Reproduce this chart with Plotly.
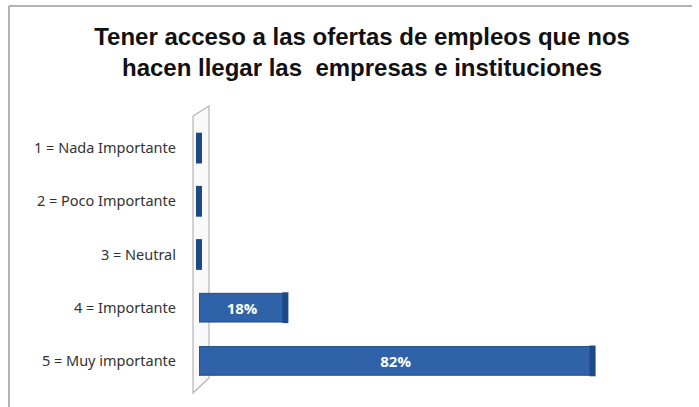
import plotly.graph_objects as go

categories = ["1 = Nada Importante", "2 = Poco Importante", "3 = Neutral",
              "4 = Importante", "5 = Muy importante"]
values = [0, 0, 0, 18, 82]
labels = ["", "", "", "18%", "82%"]

W, H = 699, 407
ML, MR, MT, MB = 199, 20, 121, 19
PW, PH = W - ML - MR, H - MT - MB

def px(x, y):
    return ((x - ML) / PW, (H - MB - y) / PH)

def path(points):
    pts = [px(x, y) for x, y in points]
    return "M " + " L ".join(f"{a:.4f},{b:.4f}" for a, b in pts) + " Z"

fig = go.Figure()
fig.add_trace(go.Bar(
    x=values, y=categories, orientation="h",
    marker=dict(color="#2F62A8", line=dict(color="#234F8C", width=1)),
    width=0.54,
    text=labels, textposition="inside", insidetextanchor="middle",
    textfont=dict(family="Open Sans", size=15, color="white", weight="bold"),
    hoverinfo="skip", cliponaxis=False,
))
fig.add_trace(go.Scatter(
    x=values, y=categories, mode="markers",
    marker=dict(symbol="line-ns", size=22, line=dict(color="#1D4A86", width=6)),
    hoverinfo="skip", cliponaxis=False,
))

fig.update_layout(
    width=W, height=H,
    margin=dict(l=ML, r=MR, t=MT, b=MB, autoexpand=False),
    paper_bgcolor="white", plot_bgcolor="white",
    showlegend=False,
    title=dict(
        text="Tener acceso a las ofertas de empleos que nos<br>hacen llegar las  empresas e instituciones",
        x=0.518, xanchor="center", y=0.89, yanchor="top",
        font=dict(family="Liberation Sans", size=24, color="#111111", weight="bold"),
    ),
    xaxis=dict(range=[0, 100], showgrid=False, zeroline=False, showticklabels=False,
               showline=False, fixedrange=True, automargin=False),
    yaxis=dict(autorange="reversed", showgrid=False, zeroline=False, showline=False,
               ticks="", ticklabelstandoff=22, automargin=False, fixedrange=True,
               tickfont=dict(family="Noto Sans", size=14.5, color="#333333")),
    shapes=[
        dict(type="path", xref="paper", yref="paper", layer="below",
             path=path([(193, 116), (209, 106), (209, 378), (193, 393)]),
             line=dict(color="#B5B5B5", width=1.2), fillcolor="rgba(245,245,245,0.6)"),
        dict(type="line", xref="paper", yref="paper",
             x0=px(9, 6)[0], y0=px(9, 6)[1], x1=px(9, 410)[0], y1=px(9, 410)[1],
             line=dict(color="#9A9A9A", width=1.5)),
        dict(type="line", xref="paper", yref="paper",
             x0=px(9, 6)[0], y0=px(9, 6)[1], x1=px(692, 6)[0], y1=px(692, 6)[1],
             line=dict(color="#9A9A9A", width=1.5)),
    ],
)

fig.write_html("out.html", config={"displayModeBar": False},
               post_script="document.body.style.margin='0';")
